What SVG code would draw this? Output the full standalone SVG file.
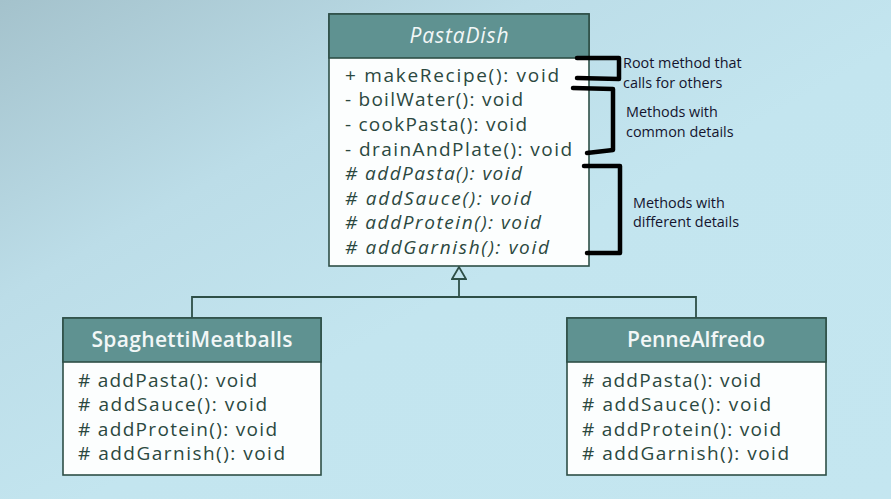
<svg xmlns="http://www.w3.org/2000/svg" width="891" height="499" viewBox="0 0 891 499">
<defs>
<linearGradient id="bg" x1="0" y1="0" x2="1" y2="1" gradientUnits="objectBoundingBox">
<stop offset="0" stop-color="#a4c2cc"/>
<stop offset="0.3" stop-color="#bcdde8"/>
<stop offset="0.55" stop-color="#c3e5ef"/>
<stop offset="1" stop-color="#c4e6f0"/>
</linearGradient>
<marker id="inh" viewBox="-1 -8 15 16" refX="0" refY="0" markerWidth="15" markerHeight="16" markerUnits="userSpaceOnUse" orient="auto">
<path d="M0,-7 L12,0 L0,7 Z" fill="#c2e3ed" stroke="#2e4f47" stroke-width="1.8" stroke-linejoin="miter"/>
</marker>
</defs>
<style>
.box{fill:#fcfefe;stroke:#2e4f47;stroke-width:1.6}
.hdr{fill:#5f9291;stroke:#2e4f47;stroke-width:1.6}
.title{font-family:"Open Sans",Lato,sans-serif;font-size:21px;fill:#f2f7f7;text-anchor:middle;font-variant-ligatures:none}
.it{font-style:italic}
.bd{font-weight:600}
.m{font-family:"Open Sans",Lato,sans-serif;font-size:19px;fill:#2b4840}
.conn{fill:none;stroke:#2e4f47;stroke-width:1.8}
.br{fill:none;stroke:#000;stroke-width:4.5;stroke-linejoin:round;stroke-linecap:round}
.note{font-family:"Open Sans","Noto Sans",sans-serif;font-size:14.4px;fill:#14142e}
</style>
<rect width="891" height="499" fill="url(#bg)"/>

<g id="connectors">
<path class="conn" d="M192,318 V297 H696 V318"/>
<path class="conn" d="M459,297 V279" marker-end="url(#inh)"/>
</g>

<g id="PastaDish">
<rect class="box" x="329" y="14" width="260" height="252"/>
<rect class="hdr" x="329" y="14" width="260" height="44"/>
<text class="title it" x="459" y="43" textLength="99">PastaDish</text>
<text class="m" x="345" y="82" textLength="214">+ makeRecipe(): void</text>
<text class="m" x="345" y="106" textLength="178">- boilWater(): void</text>
<text class="m" x="345" y="131" textLength="182">- cookPasta(): void</text>
<text class="m" x="345" y="156" textLength="227">- drainAndPlate(): void</text>
<text class="m it" x="345" y="180" textLength="177"># addPasta(): void</text>
<text class="m it" x="345" y="205" textLength="186"># addSauce(): void</text>
<text class="m it" x="345" y="229" textLength="196"># addProtein(): void</text>
<text class="m it" x="345" y="254" textLength="204"># addGarnish(): void</text>
</g>

<g id="SpaghettiMeatballs">
<rect class="box" x="63" y="318" width="258" height="157"/>
<rect class="hdr" x="63" y="318" width="258" height="44"/>
<text class="title bd" x="192" y="347" textLength="201">SpaghettiMeatballs</text>
<text class="m" x="78" y="387" textLength="179"># addPasta(): void</text>
<text class="m" x="78" y="411" textLength="189"># addSauce(): void</text>
<text class="m" x="78" y="436" textLength="199"># addProtein(): void</text>
<text class="m" x="78" y="460" textLength="207"># addGarnish(): void</text>
</g>

<g id="PenneAlfredo">
<rect class="box" x="567" y="318" width="259" height="157"/>
<rect class="hdr" x="567" y="318" width="259" height="44"/>
<text class="title bd" x="696" y="347" textLength="138">PenneAlfredo</text>
<text class="m" x="582" y="387" textLength="179"># addPasta(): void</text>
<text class="m" x="582" y="411" textLength="189"># addSauce(): void</text>
<text class="m" x="582" y="436" textLength="199"># addProtein(): void</text>
<text class="m" x="582" y="460" textLength="207"># addGarnish(): void</text>
</g>

<g id="annotations">
<path class="br" d="M577,58 L619,58 L619,79 L577,78"/>
<path class="br" d="M573,88 L613,89 L613,150 L587,153"/>
<path class="br" d="M584,166 L620,166 L620,253 L587,253"/>
<text class="note" x="623" y="68">Root method that</text>
<text class="note" x="623" y="88">calls for others</text>
<text class="note" x="626" y="117">Methods with</text>
<text class="note" x="626" y="137">common details</text>
<text class="note" x="633" y="208">Methods with</text>
<text class="note" x="633" y="227">different details</text>
</g>
</svg>
